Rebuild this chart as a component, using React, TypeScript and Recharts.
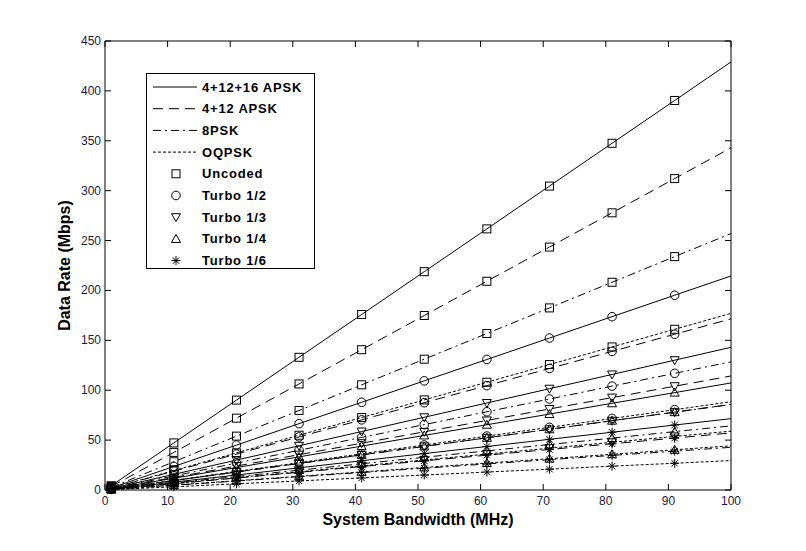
import { LineChart, Line, XAxis, YAxis } from 'recharts';

// bandwidth samples (MHz); markers sit on every sample except the last one
const BANDWIDTH = [1, 11, 21, 31, 41, 51, 61, 71, 81, 91, 100];
const X_TICKS = [0, 10, 20, 30, 40, 50, 60, 70, 80, 90, 100];
const Y_TICKS = [0, 50, 100, 150, 200, 250, 300, 350, 400, 450];

const MODULATIONS = ['4+12+16 APSK', '4+12 APSK', '8PSK', 'OQPSK'];
const CODINGS = ['Uncoded', 'Turbo 1/2', 'Turbo 1/3', 'Turbo 1/4', 'Turbo 1/6'];

// data rate (Mbps), one row per coding, same order as CODINGS
const APSK_32 = [
    [4.3, 47.2, 90.1, 133.0, 175.9, 218.8, 261.7, 304.6, 347.5, 390.4, 429.0],
    [2.1, 23.6, 45.0, 66.5, 87.9, 109.4, 130.8, 152.3, 173.7, 195.2, 214.5],
    [1.4, 15.7, 30.0, 44.3, 58.6, 72.9, 87.2, 101.5, 115.8, 130.1, 143.0],
    [1.1, 11.8, 22.5, 33.2, 44.0, 54.7, 65.4, 76.1, 86.9, 97.6, 107.3],
    [0.7, 7.9, 15.0, 22.2, 29.3, 36.5, 43.6, 50.8, 57.9, 65.1, 71.5],
];
const APSK_16 = [
    [3.4, 37.7, 72.0, 106.3, 140.6, 174.9, 209.2, 243.5, 277.8, 312.1, 343.0],
    [1.7, 18.9, 36.0, 53.2, 70.3, 87.5, 104.6, 121.8, 138.9, 156.1, 171.5],
    [1.1, 12.6, 24.0, 35.4, 46.9, 58.3, 69.7, 81.2, 92.6, 104.0, 114.3],
    [0.9, 9.4, 18.0, 26.6, 35.2, 43.7, 52.3, 60.9, 69.5, 78.0, 85.8],
    [0.6, 6.3, 12.0, 17.7, 23.5, 29.2, 34.9, 40.6, 46.3, 52.0, 57.2],
];
const PSK_8 = [
    [2.6, 28.3, 54.0, 79.7, 105.4, 131.1, 156.8, 182.5, 208.2, 233.9, 257.0],
    [1.3, 14.1, 27.0, 39.8, 52.7, 65.5, 78.4, 91.2, 104.1, 116.9, 128.5],
    [0.9, 9.4, 18.0, 26.6, 35.1, 43.7, 52.3, 60.8, 69.4, 78.0, 85.7],
    [0.6, 7.1, 13.5, 19.9, 26.3, 32.8, 39.2, 45.6, 52.0, 58.5, 64.3],
    [0.4, 4.7, 9.0, 13.3, 17.5, 21.8, 26.1, 30.4, 34.7, 38.9, 42.8],
];
const OQPSK = [
    [1.8, 19.5, 37.2, 54.9, 72.6, 90.3, 108.0, 125.7, 143.4, 161.1, 177.0],
    [0.9, 9.7, 18.6, 27.4, 36.3, 45.1, 54.0, 62.8, 71.7, 80.5, 88.5],
    [0.6, 6.5, 12.4, 18.3, 24.2, 30.1, 36.0, 41.9, 47.8, 53.7, 59.0],
    [0.4, 4.9, 9.3, 13.7, 18.1, 22.6, 27.0, 31.4, 35.8, 40.3, 44.3],
    [0.3, 3.2, 6.2, 9.1, 12.1, 15.0, 18.0, 20.9, 23.9, 26.8, 29.5],
];

const RATES = [APSK_32, APSK_16, PSK_8, OQPSK];

const data = BANDWIDTH.map((bw, i) => {
    const row: Record<string, number> = { bw };
    RATES.forEach((mod, m) => mod.forEach((values, c) => { row[`m${m}c${c}`] = values[i] }));
    return row;
})

const FONT = '"Liberation Sans", Arial, sans-serif';
const TICK_COLOR = '#1a1a40';
const DASHES = [undefined, '10 6', '8 4 2 4', '3 2'];
const MARKERS = ['square', 'circle', 'down', 'up', 'star'];

const Marker = ({ kind, cx, cy }: { kind: string; cx: number; cy: number }) => {
    const s = 4.5;
    const common = { fill: 'none', stroke: '#000', strokeWidth: 1 };
    switch (kind) {
        case 'square':
            return <rect x={cx - 4} y={cy - 4} width={8} height={8} {...common} />;
        case 'circle':
            return <circle cx={cx} cy={cy} r={4.3} {...common} />;
        case 'down':
            return <polygon points={`${cx - s},${cy - 3.5} ${cx + s},${cy - 3.5} ${cx},${cy + s}`} {...common} />;
        case 'up':
            return <polygon points={`${cx - s},${cy + 3.5} ${cx + s},${cy + 3.5} ${cx},${cy - s}`} {...common} />;
        default:
            return (
                <g {...common}>
                    <line x1={cx - s} x2={cx + s} y1={cy} y2={cy} />
                    <line x1={cx} x2={cx} y1={cy - s} y2={cy + s} />
                    <line x1={cx - 3.2} x2={cx + 3.2} y1={cy - 3.2} y2={cy + 3.2} />
                    <line x1={cx - 3.2} x2={cx + 3.2} y1={cy + 3.2} y2={cy - 3.2} />
                </g>
            );
    }
}

const makeDot = (kind: string) => (props: any) => {
    const { cx, cy, payload, index } = props;
    if (payload.bw % 10 !== 1 || cx == null || cy == null) return <g key={`d${index}`} />;
    return <g key={`d${index}`}><Marker kind={kind} cx={cx} cy={cy} /></g>;
}

// ticks point inward, MATLAB style (tickSize is 0, so x/y sit tickMargin away from the axis line)
const LeftTick = ({ x, y, payload }: any) => (
    <g>
        <line x1={x + 4} x2={x + 10} y1={y} y2={y} stroke="#000" />
        <text x={x} y={y} dy={4} textAnchor="end" fontFamily={FONT} fontSize={12} fill={TICK_COLOR}>{payload.value}</text>
    </g>
)
const BottomTick = ({ x, y, payload }: any) => (
    <g>
        <line x1={x} x2={x} y1={y - 15} y2={y - 21} stroke="#000" />
        <text x={x} y={y} textAnchor="middle" fontFamily={FONT} fontSize={12} fill={TICK_COLOR}>{payload.value}</text>
    </g>
)
const TopTick = ({ x, y }: any) => <line x1={x} x2={x} y1={y} y2={y + 6} stroke="#000" />;
const RightTick = ({ x, y }: any) => <line x1={x - 6} x2={x} y1={y} y2={y} stroke="#000" />;

const XLabel = ({ viewBox }: any) => (
    <text x={viewBox.x + viewBox.width / 2} y={viewBox.y + 35} textAnchor="middle"
        fontFamily={FONT} fontSize={16} fontWeight="bold" fill="#000">
        System Bandwidth (MHz)
    </text>
)
const YLabel = ({ viewBox }: any) => {
    const x = viewBox.x + 25;
    const y = viewBox.y + viewBox.height / 2;
    return (
        <text x={x} y={y} transform={`rotate(-90 ${x} ${y})`} textAnchor="middle"
            fontFamily={FONT} fontSize={16} fontWeight="bold" fill="#000">
            Data Rate (Mbps)
        </text>
    )
}

const LegendBox = () => {
    const rowY = (i: number) => 13 + i * 21.7;
    return (
        <div style={{ position: 'absolute', left: 146, top: 73, width: 167, height: 194, border: '1px solid #000', background: '#fff' }}>
            <svg width={167} height={194} style={{ overflow: 'visible', display: 'block' }}>
                {MODULATIONS.map((name, i) => (
                    <g key={name}>
                        <line x1={6} x2={50} y1={rowY(i)} y2={rowY(i)} stroke="#000" strokeDasharray={DASHES[i]} />
                        <text x={55} y={rowY(i) + 4.5} fontFamily={FONT} fontSize={13} fontWeight="bold" letterSpacing={0.8}>{name}</text>
                    </g>
                ))}
                {CODINGS.map((name, i) => (
                    <g key={name}>
                        <Marker kind={MARKERS[i]} cx={29} cy={rowY(i + 4)} />
                        <text x={55} y={rowY(i + 4) + 4.5} fontFamily={FONT} fontSize={13} fontWeight="bold" letterSpacing={0.8}>{name}</text>
                    </g>
                ))}
            </svg>
        </div>
    )
}

export default function App() {
    return (
        <div style={{ position: 'absolute', left: 0, top: 0, width: 806, height: 551, background: '#fff' }}>
            <LineChart width={806} height={551} data={data} margin={{ top: 40, right: 74, bottom: 31, left: 45 }}>
                <XAxis
                    dataKey="bw"
                    type="number"
                    domain={[0, 100]}
                    ticks={X_TICKS}
                    interval={0}
                    tickSize={0}
                    tickMargin={15}
                    tick={<BottomTick />}
                    axisLine={{ stroke: '#000' }}
                    height={30}
                    label={XLabel}
                />
                <XAxis
                    xAxisId="top"
                    dataKey="bw"
                    orientation="top"
                    type="number"
                    domain={[0, 100]}
                    allowDataOverflow
                    ticks={X_TICKS}
                    interval={0}
                    tickSize={0}
                    tickMargin={0}
                    tick={<TopTick />}
                    axisLine={{ stroke: '#000' }}
                    height={1}
                />
                <YAxis
                    type="number"
                    domain={[0, 450]}
                    ticks={Y_TICKS}
                    interval={0}
                    tickSize={0}
                    tickMargin={4}
                    tick={<LeftTick />}
                    axisLine={{ stroke: '#000' }}
                    width={60}
                    label={YLabel}
                />
                <YAxis
                    yAxisId="right"
                    orientation="right"
                    type="number"
                    domain={[0, 450]}
                    allowDataOverflow
                    ticks={Y_TICKS}
                    interval={0}
                    tickSize={0}
                    tickMargin={0}
                    tick={<RightTick />}
                    axisLine={{ stroke: '#000' }}
                    width={1}
                />
                {RATES.map((mod, m) => mod.map((_, c) => (
                    <Line
                        key={`m${m}c${c}`}
                        type="linear"
                        dataKey={`m${m}c${c}`}
                        stroke="#000"
                        strokeWidth={1}
                        strokeDasharray={DASHES[m]}
                        dot={makeDot(MARKERS[c])}
                        activeDot={false}
                        isAnimationActive={false}
                    />
                )))}
            </LineChart>
            <LegendBox />
        </div>
    )
}
